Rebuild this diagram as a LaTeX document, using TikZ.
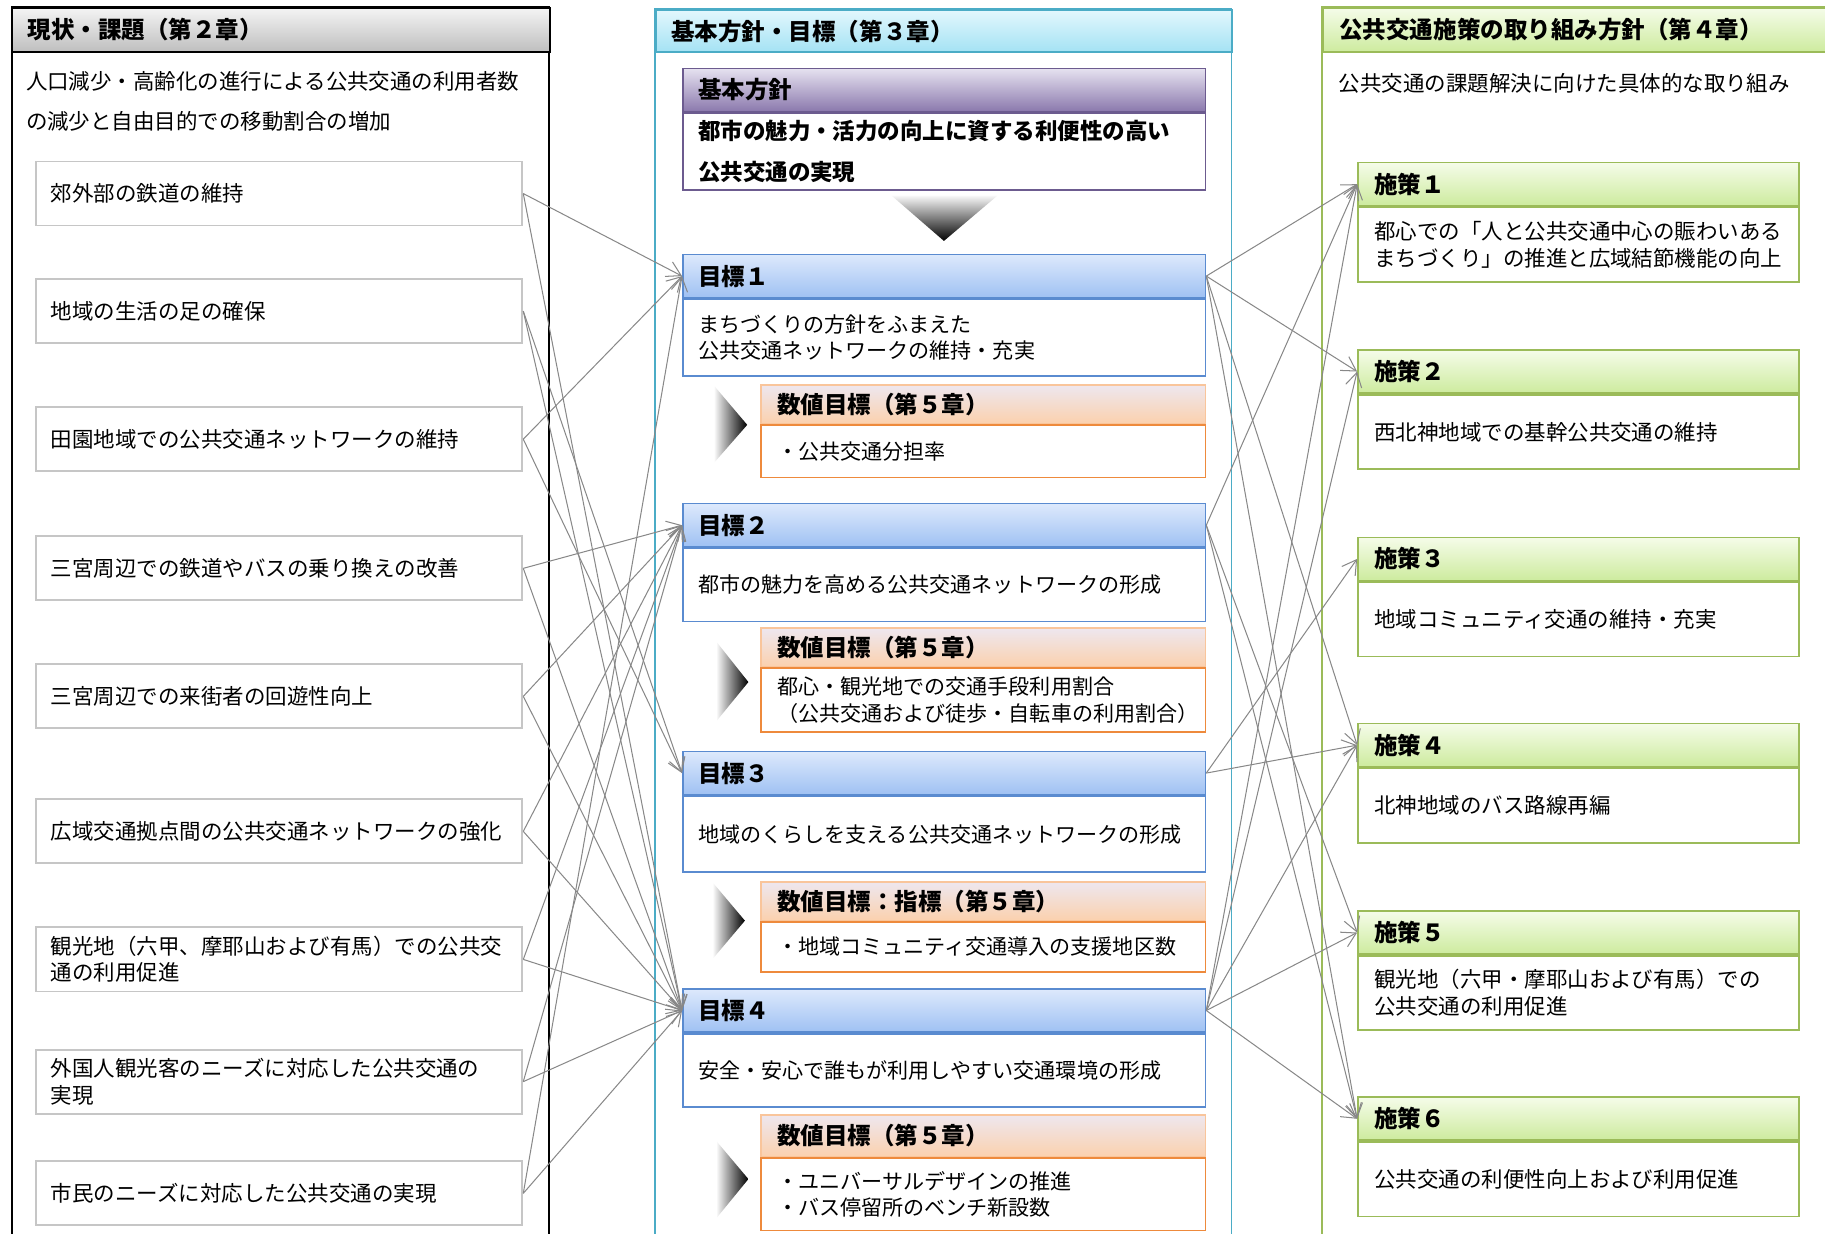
\documentclass[tikz,border=0pt]{standalone}
\usepackage{fontspec}
\setmainfont{Noto Sans CJK JP}
\usepackage{tikz}
\usetikzlibrary{arrows.meta, positioning}
\definecolor{ktGrayTop}{HTML}{F4F4F4}
\definecolor{ktGrayBottom}{HTML}{BEBEBE}
\definecolor{ktBoxLine}{HTML}{C6C6C6}
\definecolor{ktCyanFrame}{HTML}{4BACC6}
\definecolor{ktCyanTop}{HTML}{E2F7FD}
\definecolor{ktCyanBottom}{HTML}{A4E2F4}
\definecolor{ktPurpleTop}{HTML}{E6E2F0}
\definecolor{ktPurpleBottom}{HTML}{8B79AD}
\definecolor{ktPurpleFrame}{HTML}{6C5B8F}
\definecolor{ktBlueTop}{HTML}{DDE9FC}
\definecolor{ktBlueBottom}{HTML}{9FC1F3}
\definecolor{ktBlueFrame}{HTML}{5A8BD0}
\definecolor{ktPeachTop}{HTML}{EEE7EF}
\definecolor{ktPeachBottom}{HTML}{FBD1AE}
\definecolor{ktPeachLine}{HTML}{F9C59B}
\definecolor{ktOrange}{HTML}{EE8A3C}
\definecolor{ktGreenFrame}{HTML}{9BBB59}
\definecolor{ktGreenTop}{HTML}{F5FCE9}
\definecolor{ktGreenBottom}{HTML}{CDEB9E}
\definecolor{ktLink}{HTML}{888888}
\newcommand{\ktBody}{\fontsize{10.5}{13}\selectfont}
\newcommand{\ktHead}{\bfseries\fontsize{11.5}{14}\selectfont}

\begin{document}
\begin{tikzpicture}[x=0.2mm, y=-0.2mm,
    panelframe/.style={line width=0.9pt},
    panelhead/.style={anchor=north west, align=left, font=\ktHead, inner xsep=2.6mm, inner ysep=0pt, line width=0.9pt},
    introtext/.style={anchor=west, align=left, inner sep=0pt, font=\fontsize{10.5}{19.3}\selectfont},
    issue/.style={anchor=north west, draw=ktBoxLine, line width=0.9pt, fill=white, align=left, font=\ktBody, text width=78.4mm, inner xsep=2.6mm, minimum height=11mm},
    kihonhead/.style={anchor=north west, draw=ktPurpleFrame, line width=0.8pt, top color=ktPurpleTop, bottom color=ktPurpleBottom, align=left, font=\ktHead, text width=84.6mm, inner xsep=2.6mm, minimum height=7.4mm},
    kihonbody/.style={draw=ktPurpleFrame, line width=0.8pt, fill=white, align=left, font=\bfseries\fontsize{11}{19.9}\selectfont, text width=84.6mm, inner xsep=2.6mm, minimum height=13.2mm},
    goalhead/.style={anchor=north west, draw=ktBlueFrame, line width=0.8pt, top color=ktBlueTop, bottom color=ktBlueBottom, align=left, font=\ktHead, text width=84.6mm, inner xsep=2.6mm, minimum height=7.4mm},
    goalbody/.style={draw=ktBlueFrame, line width=0.8pt, fill=white, align=left, font=\fontsize{10.3}{13}\selectfont, text width=84.6mm, inner xsep=2.6mm},
    numhead/.style={anchor=north west, draw=ktPeachLine, line width=0.8pt, top color=ktPeachTop, bottom color=ktPeachBottom, align=left, font=\ktHead, text width=70.8mm, inner xsep=2.8mm, minimum height=6.6mm},
    numbody/.style={draw=ktOrange, line width=0.8pt, fill=white, align=left, font=\fontsize{10.3}{13}\selectfont, text width=70.8mm, inner xsep=2.8mm},
    polhead/.style={anchor=north west, draw=ktGreenFrame, line width=0.8pt, top color=ktGreenTop, bottom color=ktGreenBottom, align=left, font=\ktHead, text width=70.2mm, inner xsep=2.8mm, minimum height=7.4mm},
    polbody/.style={draw=ktGreenFrame, line width=0.8pt, fill=white, align=left, font=\ktBody, text width=70.2mm, inner xsep=2.8mm, minimum height=12.8mm},
    chevron/.style={left color=ktGrayTop!70!white, right color=black},
    link/.style={draw=ktLink, line width=0.5pt, -{Straight Barb[length=2.4mm, width=2.8mm]}}
]
    \useasboundingbox (0,0) rectangle (1568,1060);

    % left column: issues
    \draw[panelframe, draw=black, fill=white] (10,6) rectangle (472,1090);
    \node[panelhead, draw=black, top color=ktGrayTop, bottom color=ktGrayBottom, text width=87.2mm, minimum height=7.6mm] (lefthead) at (10,6) {現状・課題（第２章）};
    \node[introtext] (leftintro) at (22,87) {人口減少・高齢化の進行による公共交通の利用者数\\の減少と自由目的での移動割合の増加};

    \node[issue] (iss1) at (30,138) {郊外部の鉄道の維持};
    \node[issue] (iss2) at (30,239) {地域の生活の足の確保};
    \node[issue] (iss3) at (30,349) {田園地域での公共交通ネットワークの維持};
    \node[issue] (iss4) at (30,460) {三宮周辺での鉄道やバスの乗り換えの改善};
    \node[issue] (iss5) at (30,570) {三宮周辺での来街者の回遊性向上};
    \node[issue] (iss6) at (30,686) {広域交通拠点間の公共交通ネットワークの強化};
    \node[issue] (iss7) at (30,796) {観光地（六甲、摩耶山および有馬）での公共交\\通の利用促進};
    \node[issue] (iss8) at (30,901) {外国人観光客のニーズに対応した公共交通の\\実現};
    \node[issue] (iss9) at (30,997) {市民のニーズに対応した公共交通の実現};

    % middle column: policy and goals
    \draw[panelframe, draw=ktCyanFrame, fill=white] (563,8) rectangle (1058,1090);
    \node[panelhead, draw=ktCyanFrame, top color=ktCyanTop, bottom color=ktCyanBottom, text width=93.8mm, minimum height=7.2mm] (midhead) at (563,8) {基本方針・目標（第３章）};

    \node[kihonhead] (kihonhead) at (586,58) {基本方針};
    \node[kihonbody, below=0pt of kihonhead] (kihonbody) {都市の魅力・活力の向上に資する利便性の高い\\公共交通の実現};
    \shade[top color=ktGrayTop!60!white, bottom color=black] (766,168) -- (857,168) -- (811,207) -- cycle;

    \node[goalhead] (g1head) at (586,218) {目標１};
    \node[goalbody, minimum height=13.2mm, below=0pt of g1head] (g1body) {まちづくりの方針をふまえた\\公共交通ネットワークの維持・充実};
    \shade[chevron] (614,332) -- (642,365) -- (614,397) -- cycle;
    \node[numhead] (n1head) at (653,330) {数値目標（第５章）};
    \node[numbody, minimum height=9mm, below=0pt of n1head] (n1body) {・公共交通分担率};

    \node[goalhead] (g2head) at (586,432) {目標２};
    \node[goalbody, minimum height=12.6mm, below=0pt of g2head] (g2body) {都市の魅力を高める公共交通ネットワークの形成};
    \shade[chevron] (616,552) -- (643,586) -- (616,619) -- cycle;
    \node[numhead] (n2head) at (653,539) {数値目標（第５章）};
    \node[numbody, minimum height=11mm, below=0pt of n2head] (n2body) {都心・観光地での交通手段利用割合\\（公共交通および徒歩・自転車の利用割合）};

    \node[goalhead] (g3head) at (586,645) {目標３};
    \node[goalbody, minimum height=13mm, below=0pt of g3head] (g3body) {地域のくらしを支える公共交通ネットワークの形成};
    \shade[chevron] (613,759) -- (640,791) -- (613,823) -- cycle;
    \node[numhead] (n3head) at (653,757) {数値目標：指標（第５章）};
    \node[numbody, minimum height=8.6mm, below=0pt of n3head] (n3body) {・地域コミュニティ交通導入の支援地区数};

    \node[goalhead] (g4head) at (586,849) {目標４};
    \node[goalbody, minimum height=12.6mm, below=0pt of g4head] (g4body) {安全・安心で誰もが利用しやすい交通環境の形成};
    \shade[chevron] (616,981) -- (643,1013) -- (616,1046) -- cycle;
    \node[numhead, minimum height=7.2mm] (n4head) at (653,957) {数値目標（第５章）};
    \node[numbody, minimum height=12.4mm, below=0pt of n4head] (n4body) {・ユニバーサルデザインの推進\\・バス停留所のベンチ新設数};

    % right column: measures
    \draw[panelframe, draw=ktGreenFrame, fill=white] (1136,6) rectangle (1600,1090);
    \node[panelhead, draw=ktGreenFrame, top color=ktGreenTop, bottom color=ktGreenBottom, text width=87.2mm, inner xsep=2.8mm, minimum height=7.6mm] (righthead) at (1136,6) {公共交通施策の取り組み方針（第４章）};
    \node[introtext] (rightintro) at (1150,72) {公共交通の課題解決に向けた具体的な取り組み};

    \node[polhead] (p1head) at (1166,139) {施策１};
    \node[polbody, below=0pt of p1head] (p1body) {都心での「人と公共交通中心の賑わいある\\まちづくり」の推進と広域結節機能の向上};
    \node[polhead] (p2head) at (1166,300) {施策２};
    \node[polbody, below=0pt of p2head] (p2body) {西北神地域での基幹公共交通の維持};
    \node[polhead] (p3head) at (1166,461) {施策３};
    \node[polbody, below=0pt of p3head] (p3body) {地域コミュニティ交通の維持・充実};
    \node[polhead] (p4head) at (1166,621) {施策４};
    \node[polbody, below=0pt of p4head] (p4body) {北神地域のバス路線再編};
    \node[polhead] (p5head) at (1166,782) {施策５};
    \node[polbody, below=0pt of p5head] (p5body) {観光地（六甲・摩耶山および有馬）での\\公共交通の利用促進};
    \node[polhead] (p6head) at (1166,942) {施策６};
    \node[polbody, below=0pt of p6head] (p6body) {公共交通の利便性向上および利用促進};

    % issues -> goals
    \foreach \src/\dst in {iss1/g1head, iss1/g4head, iss2/g3head, iss2/g4head, iss3/g1head, iss3/g3head,
                           iss4/g2head, iss4/g4head, iss5/g2head, iss5/g4head, iss6/g2head, iss6/g4head,
                           iss7/g2head, iss7/g4head, iss8/g2head, iss8/g4head, iss9/g1head, iss9/g4head}
        \draw[link] (\src.east) -- (\dst.west);

    % goals -> measures
    \foreach \src/\dst in {g1head/p1head, g1head/p2head, g1head/p4head, g1head/p6head,
                           g2head/p1head, g2head/p5head, g2head/p6head,
                           g3head/p3head, g3head/p4head,
                           g4head/p1head, g4head/p2head, g4head/p4head, g4head/p5head, g4head/p6head}
        \draw[link] (\src.east) -- (\dst.west);
\end{tikzpicture}
\end{document}
